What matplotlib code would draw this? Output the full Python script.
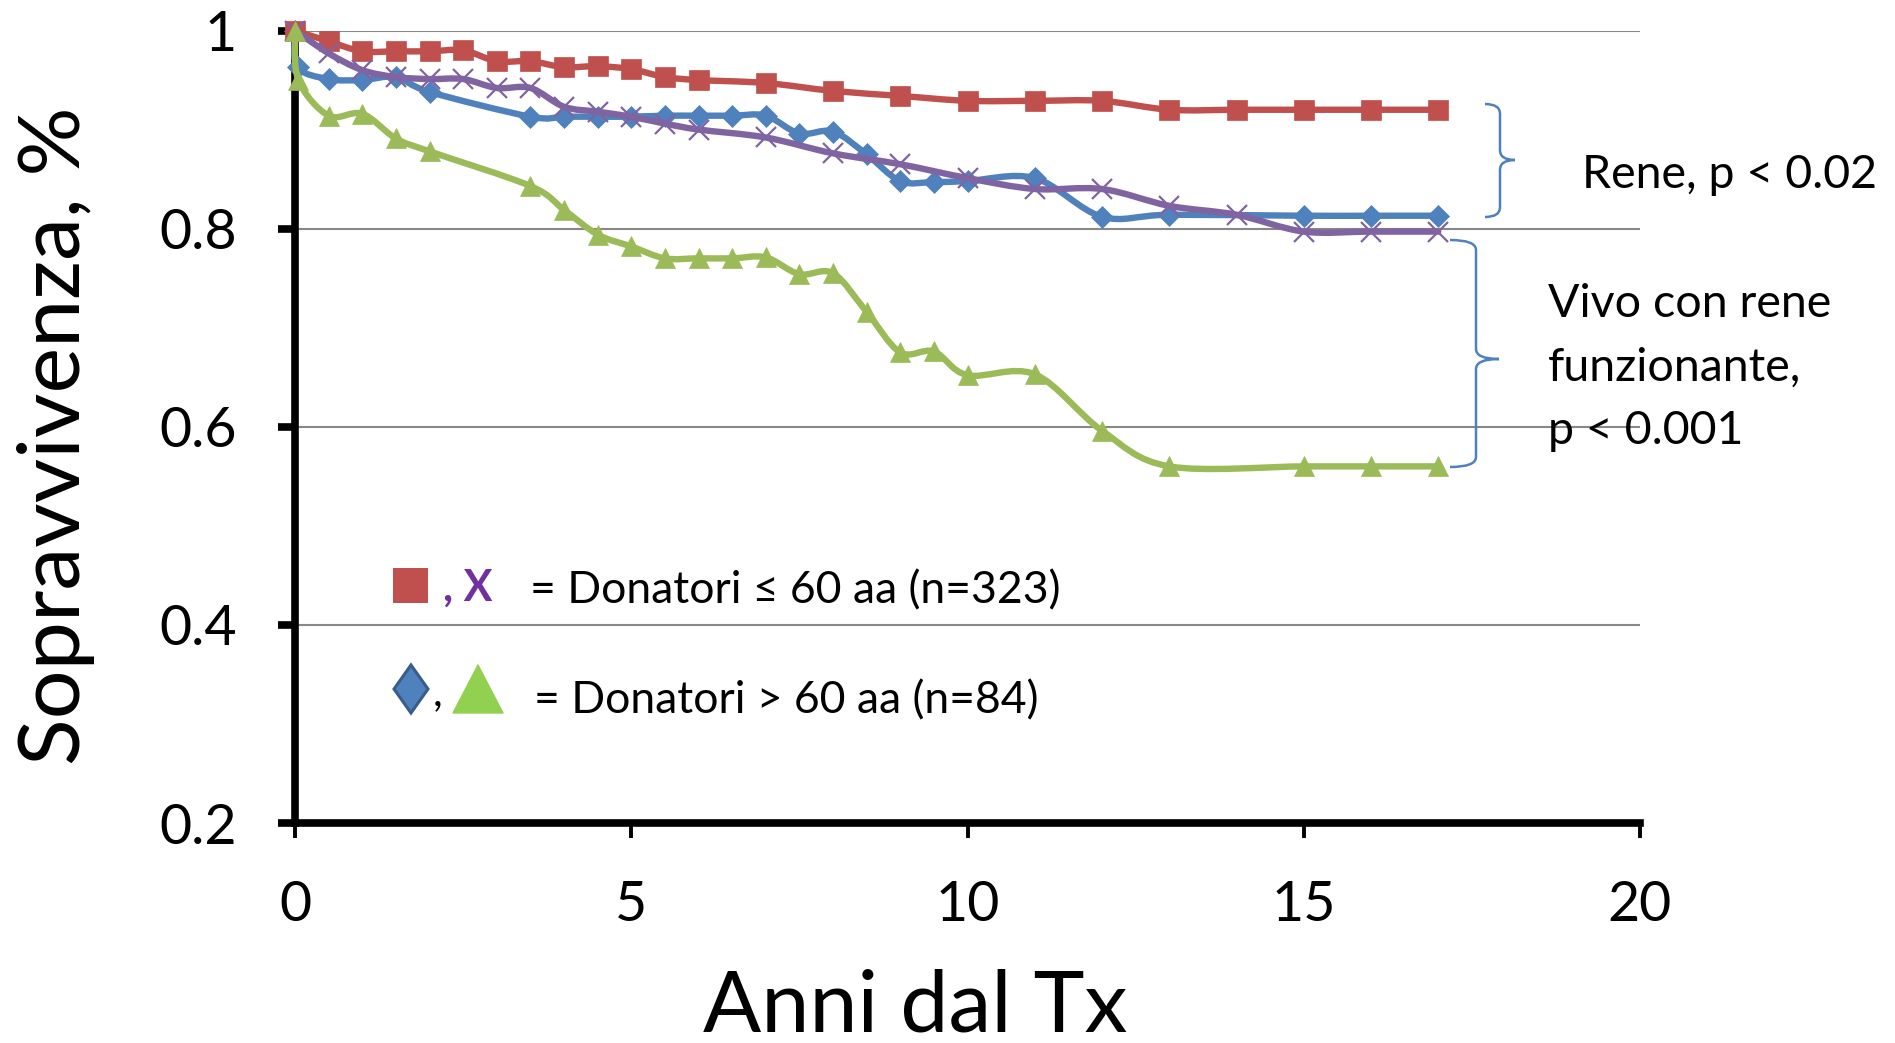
import numpy as np
import matplotlib
matplotlib.use("Agg")
import matplotlib.pyplot as plt
from matplotlib.path import Path
from matplotlib.patches import PathPatch, Rectangle, Polygon

plt.rcParams['font.family'] = ['Lato', 'DejaVu Sans']

# ---------------- data ----------------
red_x = [0, 0.5, 1, 1.5, 2, 2.5, 3, 3.5, 4, 4.5, 5, 5.5, 6, 7, 8, 9, 10, 11, 12, 13, 14, 15, 16, 17]
red_y = [1.0, 0.989, 0.979, 0.979, 0.979, 0.980, 0.969, 0.969, 0.963, 0.964, 0.961, 0.953, 0.950,
         0.947, 0.939, 0.934, 0.929, 0.929, 0.929, 0.920, 0.920, 0.920, 0.920, 0.920]

blue_x = [0, 0.04, 0.5, 1, 1.5, 2, 3.5, 4, 4.5, 5, 5.5, 6, 6.5, 7, 7.5, 8, 8.5, 9, 9.5, 10, 11, 12, 13, 15, 16, 17]
blue_y = [1.0, 0.963, 0.951, 0.950, 0.953, 0.938, 0.913, 0.913, 0.913, 0.913, 0.914, 0.914, 0.914, 0.914,
          0.896, 0.898, 0.875, 0.848, 0.847, 0.848, 0.851, 0.812, 0.814, 0.813, 0.813, 0.813]

purple_x = [0, 0.5, 1, 1.5, 2, 2.5, 3, 3.5, 4, 4.5, 5, 5.5, 6, 7, 8, 9, 10, 11, 12, 13, 14, 15, 16, 17]
purple_y = [1.0, 0.977, 0.960, 0.953, 0.951, 0.951, 0.942, 0.942, 0.923, 0.918, 0.913, 0.906, 0.900,
            0.892, 0.876, 0.865, 0.851, 0.840, 0.840, 0.823, 0.814, 0.797, 0.797, 0.797]

green_x = [0, 0.05, 0.5, 1, 1.5, 2, 3.5, 4, 4.5, 5, 5.5, 6, 6.5, 7, 7.5, 8, 8.5, 9, 9.5, 10, 11, 12, 13, 15, 16, 17]
green_y = [1.0, 0.950, 0.914, 0.916, 0.891, 0.878, 0.843, 0.819, 0.794, 0.782, 0.770, 0.770, 0.770, 0.771,
           0.754, 0.755, 0.716, 0.675, 0.676, 0.652, 0.653, 0.596, 0.560, 0.560, 0.560, 0.560]

x_ticks = [0, 5, 10, 15, 20]
y_ticks = [0.2, 0.4, 0.6, 0.8, 1.0]
y_tick_labels = ['0.2', '0.4', '0.6', '0.8', '1']

x_label = "Anni dal Tx"
y_label = "Sopravvivenza, %"
legend1 = "= Donatori \u2264 60 aa (n=323)"
legend2 = "= Donatori > 60 aa (n=84)"
note1 = "Rene, p < 0.02"
note2_lines = ["Vivo con rene", "funzionante,", "p < 0.001"]

# ---------------- style ----------------
RED = '#C0504D'
BLUE = '#4F81BD'
PURPLE = '#8064A2'
GREEN = '#9BBB59'

W, H = 1895, 1043
fig = plt.figure(figsize=(W / 100, H / 100), dpi=100)
left, right = 295 / W, 1640 / W
bottom, top = 1 - 823 / H, 1 - 30.5 / H
ax = fig.add_axes([left, bottom, right - left, top - bottom])


def P(x, y):
    return (x / W, 1 - y / H)


def smooth_path(xs, ys):
    pts = np.column_stack([xs, ys]).astype(float)
    n = len(pts)
    verts = [pts[0]]
    codes = [Path.MOVETO]
    for i in range(n - 1):
        p0 = pts[i - 1] if i > 0 else pts[i]
        p1 = pts[i]
        p2 = pts[i + 1]
        p3 = pts[i + 2] if i + 2 < n else pts[i + 1]
        c1 = p1 + (p2 - p0) / 6.0
        c2 = p2 - (p3 - p1) / 6.0
        verts += [c1, c2, p2]
        codes += [Path.CURVE4] * 3
    return Path(verts, codes)


series = [
    (blue_x, blue_y, BLUE, 'D', 11.5, dict(), 3),
    (red_x, red_y, RED, 's', 15, dict(), 4),
    (purple_x, purple_y, PURPLE, 'x', 15, dict(markeredgewidth=1.6), 5),
    (green_x, green_y, GREEN, '^', 15, dict(), 6),
]
for xs, ys, col, mk, ms, extra, z in series:
    patch = PathPatch(smooth_path(xs, ys), facecolor='none', edgecolor=col, lw=4.6,
                      capstyle='round', joinstyle='round', zorder=z, clip_on=False)
    ax.add_patch(patch)
    kw = dict(linestyle='none', marker=mk, markersize=ms, color=col, zorder=z + 0.1, clip_on=False)
    if mk == 'x':
        kw.update(markeredgecolor=col)
    else:
        kw.update(markeredgecolor=col, markeredgewidth=0.5)
    kw.update(extra)
    ax.plot(xs, ys, **kw)

ax.set_xlim(0, 20)
ax.set_ylim(0.2, 1.0)
ax.set_xticks(x_ticks)
ax.set_xticklabels([str(v) for v in x_ticks])
ax.set_yticks(y_ticks)
ax.set_yticklabels(y_tick_labels)

ax.set_axisbelow(True)
ax.yaxis.grid(True, color='#888888', lw=1.5)
ax.xaxis.grid(False)
for s in ['top', 'right']:
    ax.spines[s].set_visible(False)
for s in ['left', 'bottom']:
    ax.spines[s].set_linewidth(5.5)
    ax.spines[s].set_color('black')
    ax.spines[s].set_capstyle('projecting')

ax.tick_params(axis='y', direction='out', length=12, width=5.5, pad=30, labelsize=40)
ax.tick_params(axis='x', direction='out', length=11, width=2.8, pad=30, labelsize=40)

# axis labels
fig.text(*P(915, 1031), x_label, fontsize=62, ha='center', va='baseline')
fig.text(*P(80, 436), y_label, fontsize=62, ha='center', va='baseline', rotation=90,
         rotation_mode='anchor')

# legend-like annotation
fig.patches.append(Rectangle(P(393, 603), 35 / W, 35 / H, transform=fig.transFigure,
                             facecolor=RED, edgecolor='none'))
fig.text(*P(443, 601), ", X", fontsize=31, fontweight='bold', color='#7030A0', va='baseline')
fig.patches.append(Polygon([P(411, 665), P(428, 689), P(411, 713), P(394, 689)], closed=True,
                           transform=fig.transFigure, facecolor=BLUE, edgecolor='#385D8A', lw=2.2))
fig.text(*P(433, 705), ",", fontsize=31, color='black', va='baseline')
fig.patches.append(Polygon([P(453, 713), P(503, 713), P(478, 665)], closed=True,
                           transform=fig.transFigure, facecolor='#92D050', edgecolor='#92D050',
                           lw=1, joinstyle='round'))
fig.text(*P(530, 603), legend1, fontsize=32, va='baseline')
fig.text(*P(534, 713), legend2, fontsize=32, va='baseline')

# braces
def brace(xt, xs, xp, yt, ym, yb, r=10):
    v = [P(xt, yt), P(xs, yt), P(xs, yt + r),
         P(xs, ym - r), P(xs, ym), P(xp, ym),
         P(xs, ym), P(xs, ym + r),
         P(xs, yb - r), P(xs, yb), P(xt, yb)]
    c = [Path.MOVETO, Path.CURVE3, Path.CURVE3,
         Path.LINETO, Path.CURVE3, Path.CURVE3,
         Path.CURVE3, Path.CURVE3,
         Path.LINETO, Path.CURVE3, Path.CURVE3]
    fig.patches.append(PathPatch(Path(v, c), transform=fig.transFigure, facecolor='none',
                                 edgecolor=BLUE, lw=1.8))

brace(1485, 1500, 1515, 104, 160, 217)
brace(1450, 1476, 1499, 240, 359, 467)

fig.text(*P(1582, 188), note1, fontsize=33.5, va='baseline')
for i, line in enumerate(note2_lines):
    fig.text(*P(1548, 317 + i * 63.5), line, fontsize=33.5, va='baseline')

fig.savefig('out.png', dpi=100)
